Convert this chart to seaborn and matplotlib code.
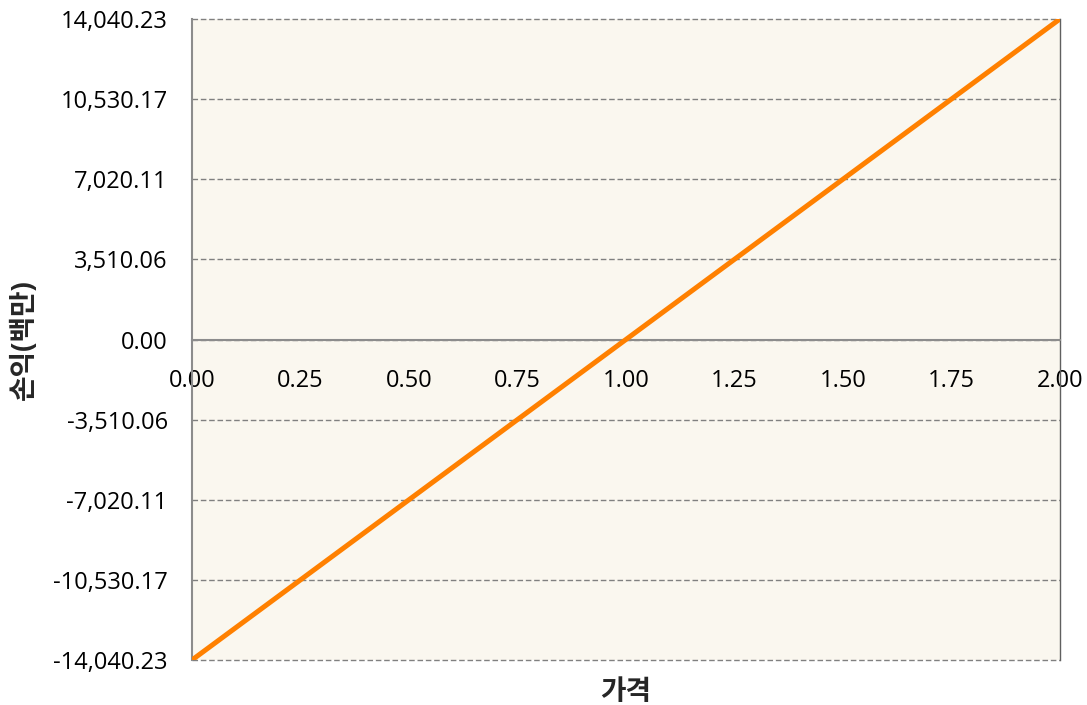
import seaborn as sns
import matplotlib.pyplot as plt
from matplotlib.ticker import FuncFormatter, MultipleLocator

# data
prices = [0.00, 0.25, 0.50, 0.75, 1.00, 1.25, 1.50, 1.75, 2.00]
pnl = [-14040.23, -10530.17, -7020.11, -3510.06, 0.00,
       3510.06, 7020.11, 10530.17, 14040.23]
y_ticks = [-14040.23, -10530.17, -7020.11, -3510.06, 0.00,
           3510.06, 7020.11, 10530.17, 14040.23]

sns.set_style('white')
plt.rcParams['font.family'] = ['Open Sans', 'Noto Sans CJK KR', 'DejaVu Sans']

fig = plt.figure(figsize=(10.87, 7.05), dpi=100)
ax = fig.add_axes([0.1766, 0.0638, 0.7984, 0.9092])
ax.set_facecolor('#FAF7EF')

sns.lineplot(x=prices, y=pnl, ax=ax, color='#FF8000', linewidth=3.6, zorder=3)

ax.set_xlim(0, 2)
ax.set_ylim(y_ticks[0], y_ticks[-1])
ax.set_yticks(y_ticks)
ax.yaxis.set_major_formatter(FuncFormatter(lambda v, p: f'{v:,.2f}'))
ax.xaxis.set_major_locator(MultipleLocator(0.25))
ax.xaxis.set_major_formatter(FuncFormatter(lambda v, p: f'{v:.2f}'))

ax.grid(axis='y', color='#808080', linestyle=(0, (4, 2)), linewidth=1)
ax.set_axisbelow(True)
# keep the edge gridlines (top / bottom) fully visible
for gl in ax.get_ygridlines():
    gl.set_clip_on(False)

ax.spines['bottom'].set_position(('data', 0))
ax.spines['bottom'].set_color('#8C8C8C')
ax.spines['bottom'].set_linewidth(1.5)
ax.spines['left'].set_color('#8C8C8C')
ax.spines['left'].set_linewidth(1.5)
ax.spines['right'].set_color('#606060')
ax.spines['right'].set_linewidth(1)
ax.spines['top'].set_visible(False)

ax.tick_params(axis='both', labelsize=17, colors='#8C8C8C', labelcolor='black',
               length=6.5, width=1.5, direction='out')
ax.tick_params(axis='x', pad=15)
ax.tick_params(axis='y', pad=11)

ax.set_xlabel('가격', fontsize=20, fontweight='bold')
ax.set_ylabel('손익(백만)', fontsize=20, fontweight='bold')
ax.xaxis.set_label_coords(0.5, -0.028)
ax.yaxis.set_label_coords(-0.176, 0.5)

plt.savefig('out.png', dpi=100)
